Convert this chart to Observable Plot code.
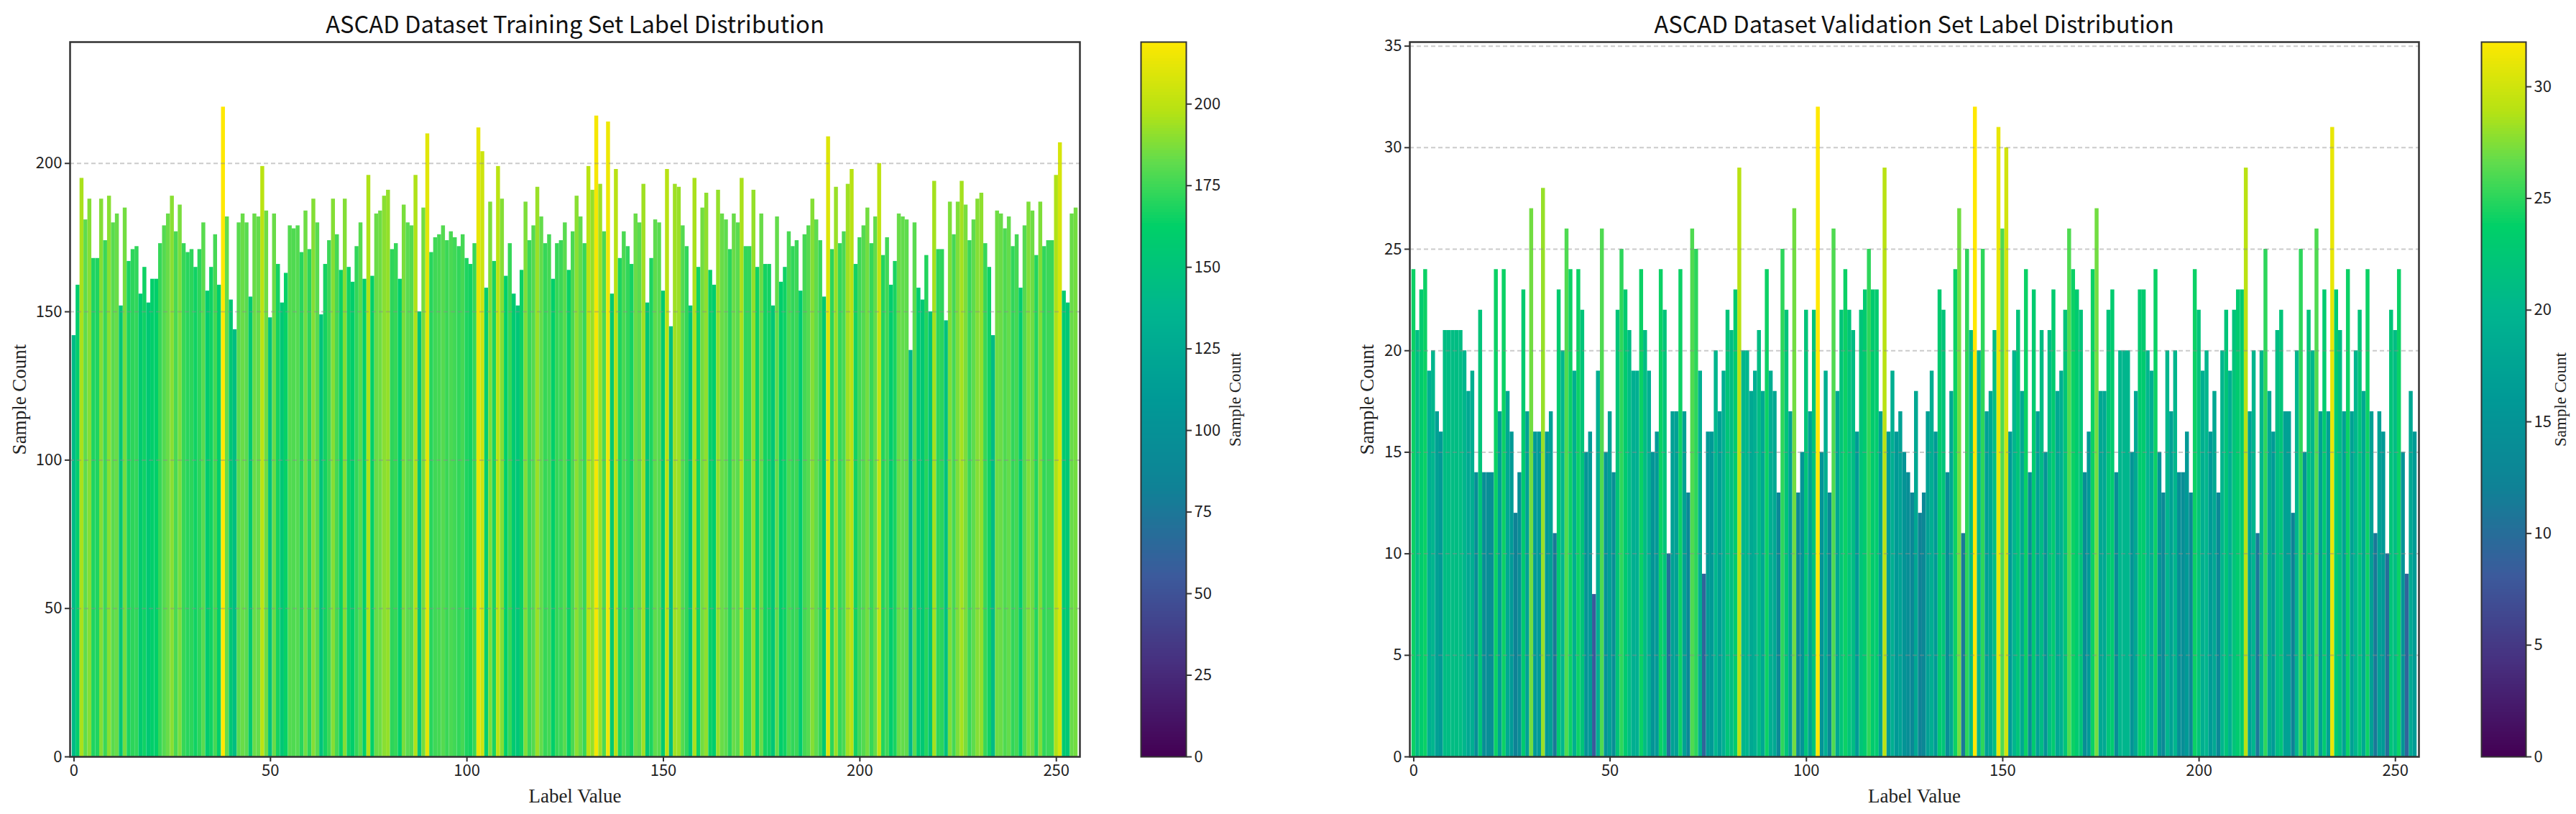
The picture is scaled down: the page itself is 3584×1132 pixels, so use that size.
<!DOCTYPE html>
<html>
<head>
<meta charset="utf-8">
<script src="https://cdn.jsdelivr.net/npm/d3@7"></script>
<script src="https://cdn.jsdelivr.net/npm/@observablehq/plot@0.6"></script>
<style>
  html, body { margin: 0; padding: 0; background: #fff; }
  #page { position: relative; width: 3584px; height: 1132px; overflow: hidden; }
  .slot { position: absolute; top: 0; }
  .slot svg { display: block; background: #fff; }
  .title { position: absolute; top: 9px; transform: translateX(-50%); white-space: nowrap;
           font-family: "Noto Sans CJK SC", "Noto Sans", sans-serif; font-size: 32.7px; line-height: 46px; color: #111; }
</style>
</head>
<body>
<div id="page"></div>
<script>
const trainingCounts = [
  142,159,195,181,188,168,168,188,174,189,
  180,183,152,185,167,171,172,156,165,153,
  161,161,173,179,183,189,177,186,173,170,
  171,165,171,180,157,165,176,159,219,182,
  154,144,180,183,180,155,183,182,199,184,
  148,183,166,153,163,179,178,179,170,184,
  171,188,180,149,166,174,188,176,164,188,
  165,160,172,180,161,196,162,183,184,189,
  191,171,173,161,186,180,179,196,150,185,
  210,170,175,176,179,174,177,175,172,176,
  168,166,173,212,204,158,187,167,199,188,
  162,173,156,152,164,187,174,179,192,182,
  173,176,161,173,174,180,164,177,189,182,
  173,199,191,216,193,177,
  214,156,198,168,177,172,166,183,180,193,
  153,168,181,180,157,198,145,193,192,179,
  172,152,195,165,185,190,164,159,191,183,
  181,171,183,180,195,172,172,191,165,183,
  166,166,152,182,160,165,177,172,174,157,
  176,179,188,181,174,155,209,171,192,173,
  177,193,198,166,175,179,185,173,182,200,
  169,175,159,167,183,182,181,
  137,180,158,154,169,150,194,171,171,147,
  187,176,187,194,186,174,181,188,190,173,
  165,142,184,183,178,182,172,176,158,179,
  187,184,169,187,172,174,174,196,207,157,
  153,183,185
];
const validationCounts = [
  24,21,23,24,19,20,17,16,21,21,21,21,21,20,18,19,14,22,14,14,
  14,24,17,24,18,16,12,14,23,17,27,16,16,28,16,17,11,23,20,26,
  24,19,24,22,15,16,8,19,26,15,17,14,22,25,23,21,19,19,24,21,
  19,15,16,24,22,10,17,17,24,17,13,26,25,19,9,16,16,20,17,19,
  22,21,23,29,20,20,18,19,21,18,24,19,18,13,25,22,17,27,13,15,
  22,17,22,32,15,19,13,26,18,22,24,22,21,16,22,23,25,23,23,17,
  29,16,19,16,17,15,14,13,18,12,13,17,19,16,23,22,14,18,24,27,
  11,25,21,32,20,25,17,18,21,31,26,30,16,20,22,18,24,14,23,17,
  21,15,21,23,18,19,22,26,24,23,22,14,16,24,27,18,18,22,23,14,
  20,20,20,15,18,23,23,20,19,24,15,13,20,17,20,14,14,16,13,24,
  22,19,20,16,18,13,20,22,19,22,23,23,29,17,20,11,20,25,18,16,
  21,22,17,17,12,20,25,15,22,20,26,17,23,17,31,23,21,17,24,17,
  20,22,18,24,17,11,17,16,10,22,21,24,15,9,18,16
];
const labelTicks = [0, 50, 100, 150, 200, 250];
const trainYTicks = [0, 50, 100, 150, 200];
const validYTicks = [0, 5, 10, 15, 20, 25, 30, 35];
const trainBarTicks = [0, 25, 50, 75, 100, 125, 150, 175, 200];
const validBarTicks = [0, 5, 10, 15, 20, 25, 30];
const colorStops  = [0, 0.13, 0.25, 0.375, 0.5, 0.62, 0.74, 0.83, 0.9, 1];
const colorValues = ["#440154","#47307f","#3c5a9c","#0f8296","#009a96","#00b58f","#00d068","#62dc4c","#b5e214","#ffe800"];

const tickFont = '"Noto Sans CJK SC", "Noto Sans", sans-serif';
const labelFont = '"Liberation Serif", serif';
const ink = "#222";
const PLOT_H = 1132, TOP = 58, BOTTOM = 80;

function colorScale(max) {
  return { type: "linear", domain: colorStops.map(s => s * max), range: colorValues, clamp: true };
}
function put(node, left) {
  const slot = document.createElement("div");
  slot.className = "slot";
  slot.style.left = left + "px";
  slot.appendChild(node);
  document.getElementById("page").appendChild(slot);
}
function addTitle(text, cx) {
  const t = document.createElement("div");
  t.className = "title";
  t.style.left = cx + "px";
  t.textContent = text;
  document.getElementById("page").appendChild(t);
}

function panel({counts, yTop, yTicks, width, ml, mr, labelX}) {
  const max = d3.max(counts);
  const rows = counts.map((v, i) => ({i, v}));
  return Plot.plot({
    width, height: PLOT_H, marginLeft: ml, marginRight: mr, marginTop: TOP, marginBottom: BOTTOM,
    style: {fontFamily: tickFont, fontSize: "22px", color: ink, background: "#fff"},
    x: {domain: [-1, 256], label: null},
    y: {domain: [0, yTop], label: null},
    color: colorScale(max),
    marks: [
      Plot.rectY(rows, {x1: d => d.i - 0.5, x2: d => d.i + 0.5, y: "v", fill: "v"}),
      Plot.ruleY(yTicks.filter(t => t > 0), {stroke: "#8c8c8c", strokeOpacity: 0.45, strokeWidth: 2, strokeDasharray: "6,4"}),
      Plot.frame({stroke: "#333", strokeWidth: 2.5}),
      Plot.axisX({ticks: labelTicks, tickSize: 7, tickPadding: 4, label: null, stroke: "#333", strokeWidth: 2, fill: ink}),
      Plot.axisY({ticks: yTicks, tickSize: 7, tickPadding: 4, label: null, stroke: "#333", strokeWidth: 2, fill: ink}),
      Plot.text(["Label Value"], {frameAnchor: "bottom", dy: 63, fontFamily: labelFont, fontSize: 27, fill: ink}),
      Plot.text(["Sample Count"], {frameAnchor: "left", textAnchor: "middle", dx: labelX - ml, rotate: -90, fontFamily: labelFont, fontSize: 27, fill: ink})
    ]
  });
}

function colorbar({max, ticks, width, ml, mr, labelDx}) {
  const levels = d3.range(0, 256).map(k => k / 256 * max);
  const step = max / 256;
  return Plot.plot({
    width, height: PLOT_H, marginLeft: ml, marginRight: mr, marginTop: TOP, marginBottom: BOTTOM,
    style: {fontFamily: tickFont, fontSize: "22px", color: ink, background: "#fff"},
    x: {domain: [0, 1], axis: null},
    y: {domain: [0, max], label: null},
    color: colorScale(max),
    marks: [
      Plot.rect(levels, {x1: 0, x2: 1, y1: d => d, y2: d => d + step, fill: d => d, shapeRendering: "crispEdges"}),
      Plot.frame({stroke: "#333", strokeWidth: 2}),
      Plot.axisY({anchor: "right", ticks, tickSize: 7, tickPadding: 4, label: null, stroke: "#333", strokeWidth: 2, fill: ink}),
      Plot.text(["Sample Count"], {frameAnchor: "right", textAnchor: "middle", dx: labelDx, rotate: -90, fontFamily: labelFont, fontSize: 23, fill: ink})
    ]
  });
}

put(panel({counts: trainingCounts, yTop: 240.9, yTicks: trainYTicks, width: 1540, ml: 97, mr: 38, labelX: 27}), 0);
put(colorbar({max: 219, ticks: trainBarTicks, width: 220, ml: 27, mr: 130, labelDx: 68}), 1560);
put(panel({counts: validationCounts, yTop: 35.2, yTicks: validYTicks, width: 1540, ml: 101, mr: 35, labelX: 42}), 1860);
put(colorbar({max: 32, ticks: validBarTicks, width: 159, ml: 27, mr: 70, labelDx: 48}), 3425);
addTitle("ASCAD Dataset Training Set Label Distribution", 800);
addTitle("ASCAD Dataset Validation Set Label Distribution", 2663);
</script>
</body>
</html>
